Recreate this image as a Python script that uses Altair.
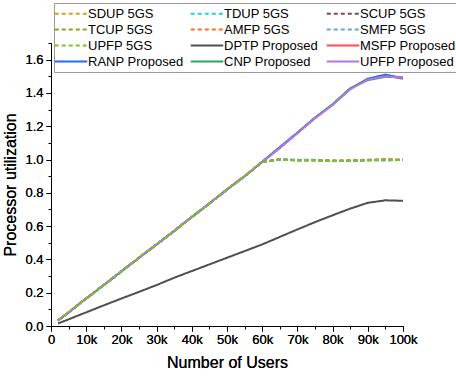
import altair as alt
import pandas as pd

users = [2000, 5000, 10000, 15000, 20000, 25000, 30000, 35000, 40000, 45000, 50000,
         55000, 60000, 65000, 70000, 75000, 80000, 85000, 90000, 95000, 100000]

series_order = ["SDUP 5GS", "TDUP 5GS", "SCUP 5GS", "TCUP 5GS", "AMFP 5GS", "SMFP 5GS",
                "UPFP 5GS", "DPTP Proposed", "MSFP Proposed", "RANP Proposed",
                "CNP Proposed", "UPFP Proposed"]
colors = ["#d6a21a", "#22d3d8", "#7b4a4a", "#9c9a22", "#ff6d1f", "#62a3e0",
          "#7cc61f", "#4f4f4f", "#ff4d4d", "#1f6fe8", "#23a85a", "#b474ea"]
dashes = [[4, 3]] * 7 + [[1, 0]] * 5

sdup_5gs = [0.033, 0.082, 0.165, 0.246, 0.328, 0.41, 0.49, 0.571, 0.655, 0.736, 0.82, 0.90, 0.985, 1.0, 0.995, 0.996, 0.99, 0.995, 0.995, 1.002, 0.998]
tdup_5gs = [0.033, 0.082, 0.165, 0.246, 0.328, 0.41, 0.49, 0.571, 0.655, 0.736, 0.82, 0.90, 0.985, 1.003, 0.998, 0.998, 0.994, 0.99, 0.998, 0.994, 0.998]
scup_5gs = [0.033, 0.082, 0.165, 0.246, 0.328, 0.41, 0.49, 0.571, 0.655, 0.736, 0.82, 0.90, 0.985, 1.0, 0.996, 0.995, 0.992, 0.993, 0.996, 0.998, 0.999]
tcup_5gs = [0.033, 0.082, 0.165, 0.246, 0.328, 0.41, 0.49, 0.571, 0.655, 0.736, 0.82, 0.90, 0.985, 1.0, 0.995, 0.996, 0.991, 0.992, 0.996, 0.997, 0.998]
amfp_5gs = [0.033, 0.082, 0.165, 0.246, 0.328, 0.41, 0.49, 0.571, 0.655, 0.736, 0.82, 0.90, 0.985, 1.001, 0.996, 0.997, 0.993, 0.994, 0.999, 1.003, 0.997]
smfp_5gs = [0.033, 0.082, 0.165, 0.246, 0.328, 0.41, 0.49, 0.571, 0.655, 0.736, 0.82, 0.90, 0.985, 1.0, 0.995, 0.996, 0.992, 0.991, 0.997, 0.996, 0.998]
upfp_5gs = [0.033, 0.082, 0.165, 0.246, 0.328, 0.41, 0.49, 0.571, 0.655, 0.736, 0.82, 0.90, 0.985, 1.0, 0.995, 0.995, 0.992, 0.993, 0.996, 0.997, 0.998]
dptp_proposed = [0.015, 0.04, 0.082, 0.124, 0.165, 0.205, 0.246, 0.29, 0.33, 0.37, 0.41, 0.45, 0.49, 0.535, 0.58, 0.624, 0.665, 0.705, 0.74, 0.755, 0.752]
msfp_proposed = [0.033, 0.082, 0.165, 0.246, 0.328, 0.41, 0.49, 0.571, 0.655, 0.736, 0.82, 0.90, 0.985, 1.07, 1.16, 1.25, 1.33, 1.425, 1.485, 1.505, 1.485]
ranp_proposed = [0.033, 0.082, 0.165, 0.246, 0.328, 0.41, 0.49, 0.571, 0.655, 0.736, 0.82, 0.90, 0.987, 1.075, 1.162, 1.25, 1.33, 1.425, 1.485, 1.51, 1.49]
cnp_proposed = [0.033, 0.082, 0.165, 0.246, 0.328, 0.41, 0.49, 0.571, 0.655, 0.736, 0.82, 0.90, 0.985, 1.07, 1.16, 1.252, 1.332, 1.428, 1.477, 1.497, 1.493]
upfp_proposed = [0.033, 0.082, 0.165, 0.246, 0.328, 0.41, 0.49, 0.571, 0.655, 0.736, 0.82, 0.90, 0.985, 1.07, 1.158, 1.248, 1.328, 1.422, 1.48, 1.50, 1.492]

values = [sdup_5gs, tdup_5gs, scup_5gs, tcup_5gs, amfp_5gs, smfp_5gs, upfp_5gs,
          dptp_proposed, msfp_proposed, ranp_proposed, cnp_proposed, upfp_proposed]

rows = []
for name, vals in zip(series_order, values):
    for i, (u, v) in enumerate(zip(users, vals)):
        rows.append({"series": name, "users": u, "util": v, "idx": i,
                     "kind": "5GS" if name.endswith("5GS") else "Proposed"})
df = pd.DataFrame(rows)

FONT = "Liberation Sans"

x_major = [i * 10000 for i in range(11)]
x_minor = [5000 + i * 10000 for i in range(10)]
y_major = [round(i * 0.2, 1) for i in range(9)]
y_minor = [round(0.1 + i * 0.2, 1) for i in range(9)]

xscale = alt.Scale(domain=[0, 100000], nice=False)
yscale = alt.Scale(domain=[0, 1.7], nice=False)


def make_legend():
    return alt.Legend(title=None, orient="none", legendX=3, legendY=-40, direction="horizontal",
                      columns=3, gridAlign="all", symbolType="M-1.5,0L3.5,0", symbolSize=169,
                      symbolStrokeWidth=2, labelFontSize=13, labelFont=FONT,
                      labelColor="black", columnPadding=2, rowPadding=1,
                      labelOffset=16, padding=3, strokeColor="#9a9a9a",
                      fillColor="white", labelLimit=200)


color = alt.Color("series:N", scale=alt.Scale(domain=series_order, range=colors),
                  legend=make_legend())
dash = alt.StrokeDash("series:N", scale=alt.Scale(domain=series_order, range=dashes),
                      legend=make_legend())

x_enc = alt.X("users:Q", scale=xscale,
              axis=alt.Axis(values=x_major, title="Number of Users",
                            labelExpr="datum.value == 0 ? '0' : (datum.value / 1000) + 'k'",
                            tickSize=5, labelPadding=2, titlePadding=8, grid=False,
                            labelOverlap=False, labelFlush=False,
                            titleFontWeight="normal", orient="bottom"))
y_enc = alt.Y("util:Q", scale=yscale,
              axis=alt.Axis(values=y_major, format=".1f", title="Processor utilization",
                            tickSize=5, labelPadding=3, titlePadding=6, grid=False,
                            labelOverlap=False, labelFlush=False,
                            titleFontWeight="normal", orient="left"))

base = alt.Chart(df)
proposed = base.transform_filter("datum.kind == 'Proposed'").mark_line(strokeWidth=2).encode(
    x=x_enc, y=y_enc, color=color, strokeDash=dash, detail="series:N", order="idx:Q")
gs = base.transform_filter("datum.kind == '5GS'").mark_line(strokeWidth=2).encode(
    x=x_enc, y=y_enc, color=color, strokeDash=dash, detail="series:N", order="idx:Q")

minor = base.mark_line(opacity=0).encode(
    x=alt.X("users:Q", scale=xscale,
            axis=alt.Axis(values=x_minor, labels=False, title=None, tickSize=3,
                          domain=False, grid=False, orient="bottom")),
    y=alt.Y("util:Q", scale=yscale,
            axis=alt.Axis(values=y_minor + [1.7], labels=False, title=None, tickSize=3,
                          domain=False, grid=False, orient="left")),
    detail="series:N")

chart = alt.layer(proposed, gs, minor).resolve_axis(x="independent", y="independent").properties(
    width=352, height=283,
    autosize=alt.AutoSizeParams(type="none"),
    padding={"left": 51, "top": 43, "right": 53, "bottom": 53},
).configure_view(stroke=None).configure_axis(
    domainColor="black", tickColor="black", labelColor="black", titleColor="black",
    labelFont=FONT, titleFont=FONT, labelFontSize=13, titleFontSize=16,
    titleFontWeight="normal", domainWidth=1, tickWidth=1
)

chart.save("out.html", embed_options={"renderer": "svg", "actions": False})
